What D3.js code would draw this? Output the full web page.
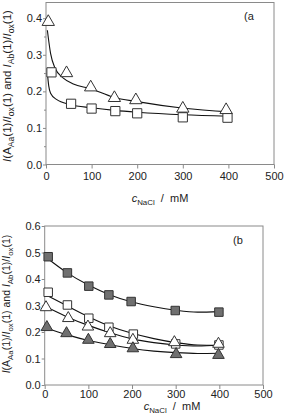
<!DOCTYPE html>
<html>
<head>
<meta charset="utf-8">
<script src="https://cdn.jsdelivr.net/npm/d3@7"></script>
<style>
body { margin: 0; background: #fff; }
svg text { font-family: "Liberation Sans", Arial, sans-serif; fill: #222; }
</style>
</head>
<body>
<div id="chart"></div>
<script>
const xTicks = [0, 100, 200, 300, 400, 500];
const yTicksA = [0, 0.1, 0.2, 0.3, 0.4];
const yMinorA = [0.05, 0.15, 0.25, 0.35];
const yTicksB = [0, 0.1, 0.2, 0.3, 0.4, 0.5, 0.6];

// panel (a)
const aTriX = [5, 45, 98, 150, 197, 300, 395];
const aTriY = [0.39, 0.25, 0.211, 0.182, 0.176, 0.153, 0.149];
const aSqX = [12, 55, 100, 152, 200, 300, 398];
const aSqY = [0.252, 0.166, 0.153, 0.146, 0.14, 0.129, 0.128];
const aTriFitX = [3, 10, 20, 38, 60, 96, 148, 200, 302, 403];
const aTriFitY = [0.367, 0.304, 0.263, 0.236, 0.22, 0.208, 0.184, 0.172, 0.154, 0.144];
const aSqFitX = [3, 6, 10, 23, 53, 100, 150, 200, 300, 400];
const aSqFitY = [0.25, 0.215, 0.195, 0.178, 0.164, 0.155, 0.148, 0.143, 0.136, 0.132];

// panel (b)
const bDkSqX = [8, 52, 101, 147, 198, 299, 399];
const bDkSqY = [0.484, 0.423, 0.373, 0.34, 0.315, 0.281, 0.275];
const bSqX = [8, 52, 101, 147, 203, 300, 399];
const bSqY = [0.35, 0.302, 0.252, 0.218, 0.192, 0.155, 0.151];
const bTriX = [3, 54, 99, 150, 202, 297, 398];
const bTriY = [0.293, 0.252, 0.22, 0.195, 0.17, 0.161, 0.155];
const bDkTriX = [5, 50, 100, 150, 202, 301, 398];
const bDkTriY = [0.218, 0.195, 0.17, 0.154, 0.138, 0.116, 0.113];
const bFitX = [3, 50, 100, 150, 200, 250, 300, 350, 400];
const bDkSqFitY = [0.482, 0.425, 0.377, 0.34, 0.313, 0.295, 0.282, 0.275, 0.277];
const bSqFitY = [0.34, 0.3, 0.258, 0.222, 0.195, 0.175, 0.16, 0.151, 0.15];
const bTriFitY = [0.295, 0.258, 0.225, 0.197, 0.174, 0.16, 0.151, 0.147, 0.15];
const bDkTriFitY = [0.215, 0.19, 0.168, 0.152, 0.138, 0.128, 0.122, 0.119, 0.12];

const axisColor = "#8a8a8a";
const darkFill = "#707070";

const svg = d3.select("#chart").append("svg").attr("width", 285).attr("height", 415);

function zip(xs, ys) {
    return xs.map((x, i) => [x, ys[i]]);
}

function yTitle(g, x, y, size) {
    const t = g.append("text")
        .attr("transform", "translate(" + x + "," + y + ") rotate(-90)")
        .attr("text-anchor", "middle")
        .attr("font-size", size + "px");
    const parts = [
        ["I", "i"], ["(A", ""], ["Aa", "s"], ["(1)/", ""], ["I", "i"], ["ox", "s"],
        ["(1) and ", ""], ["I", "i"], ["Ab", "s"], ["(1)/", ""], ["I", "i"], ["ox", "s"], ["(1)", ""]
    ];
    let shifted = false;
    parts.forEach(p => {
        const s = t.append("tspan").text(p[0]);
        if (p[1] === "i") s.attr("font-style", "italic");
        if (p[1] === "s") {
            s.attr("font-size", (size * 0.75) + "px").attr("dy", 2.5);
            shifted = true;
        } else if (shifted) {
            s.attr("dy", -2.5);
            shifted = false;
        }
    });
}

function xTitle(g, x, y, size) {
    const t = g.append("text")
        .attr("x", x).attr("y", y)
        .attr("text-anchor", "middle")
        .attr("font-size", size + "px");
    t.append("tspan").attr("font-style", "italic").text("c");
    t.append("tspan").attr("font-size", (size * 0.72) + "px").attr("dy", 2.5).text("NaCl");
    t.append("tspan").attr("dy", -2.5).text("\u00a0\u00a0/\u00a0\u00a0mM");
}

function drawPanel(cfg) {
    const x = d3.scaleLinear().domain([0, 500]).range([cfg.left, cfg.right]);
    const y = d3.scaleLinear().domain([0, cfg.yMax]).range([cfg.bottom, cfg.top]);
    const g = svg.append("g");

    // frame
    g.append("rect")
        .attr("x", cfg.left).attr("y", cfg.top)
        .attr("width", cfg.right - cfg.left).attr("height", cfg.bottom - cfg.top)
        .attr("fill", "none").attr("stroke", axisColor).attr("stroke-width", 1);

    const ax = g.append("g").attr("transform", "translate(0," + cfg.bottom + ")")
        .call(d3.axisBottom(x).tickValues(xTicks).tickSize(4).tickPadding(cfg.xPad).tickFormat(d3.format("d")));
    const ay = g.append("g").attr("transform", "translate(" + cfg.left + ",0)")
        .call(d3.axisLeft(y).tickValues(cfg.yTicks).tickSize(3).tickPadding(1).tickFormat(d3.format(".1f")));
    if (cfg.yMinor) {
        g.append("g").attr("transform", "translate(" + cfg.left + ",0)")
            .call(d3.axisLeft(y).tickValues(cfg.yMinor).tickSize(2).tickFormat(""))
            .call(a => a.select(".domain").remove())
            .selectAll("line").attr("stroke", axisColor);
    }
    [ax, ay].forEach(a => {
        a.select(".domain").remove();
        a.selectAll("line").attr("stroke", axisColor);
        a.selectAll("text").attr("font-size", "11px").attr("font-family", "Liberation Sans, Arial, sans-serif").attr("fill", "#222");
    });

    const line = d3.line().x(d => x(d[0])).y(d => y(d[1])).curve(d3.curveMonotoneX);
    cfg.fits.forEach(f => {
        g.append("path").datum(f).attr("d", line)
            .attr("fill", "none").attr("stroke", "#111").attr("stroke-width", 1.1);
    });

    cfg.series.forEach(s => {
        const sym = d3.symbol().type(s.tri ? d3.symbolTriangle : d3.symbolSquare).size(s.size);
        g.append("g").selectAll("path").data(s.pts).join("path")
            .attr("transform", d => "translate(" + x(d[0]) + "," + y(d[1]) + ")")
            .attr("d", sym)
            .attr("fill", s.dark ? darkFill : "#fff")
            .attr("stroke", "#333").attr("stroke-width", 1);
    });

    g.append("text").attr("x", cfg.tagX).attr("y", cfg.tagY)
        .attr("font-size", "11px").text(cfg.tag);

    yTitle(g, cfg.yTitleX, cfg.yTitleY, cfg.yTitleSize);
    xTitle(g, cfg.xTitleX, cfg.xTitleY, 11);
}

drawPanel({
    left: 46, right: 274, top: 2.5, bottom: 164.5, yMax: 0.443,
    yTicks: yTicksA, yMinor: yMinorA, xPad: 4,
    fits: [zip(aTriFitX, aTriFitY), zip(aSqFitX, aSqFitY)],
    series: [
        { pts: zip(aSqX, aSqY), tri: false, dark: false, size: 85 },
        { pts: zip(aTriX, aTriY), tri: true, dark: false, size: 66 }
    ],
    tag: "(a", tagX: 244, tagY: 20,
    yTitleX: 11, yTitleY: 86, yTitleSize: 11.5,
    xTitleX: 160, xTitleY: 202
});

drawPanel({
    left: 44.7, right: 263, top: 226, bottom: 385, yMax: 0.6,
    yTicks: yTicksB, yMinor: null, xPad: 1,
    fits: [zip(bFitX, bDkSqFitY), zip(bFitX, bSqFitY), zip(bFitX, bTriFitY), zip(bFitX, bDkTriFitY)],
    series: [
        { pts: zip(bDkSqX, bDkSqY), tri: false, dark: true, size: 72 },
        { pts: zip(bSqX, bSqY), tri: false, dark: false, size: 72 },
        { pts: zip(bTriX, bTriY), tri: true, dark: false, size: 58 },
        { pts: zip(bDkTriX, bDkTriY), tri: true, dark: true, size: 58 }
    ],
    tag: "(b", tagX: 233, tagY: 244,
    yTitleX: 10, yTitleY: 304, yTitleSize: 10.5,
    xTitleX: 172, xTitleY: 410
});
</script>
</body>
</html>
